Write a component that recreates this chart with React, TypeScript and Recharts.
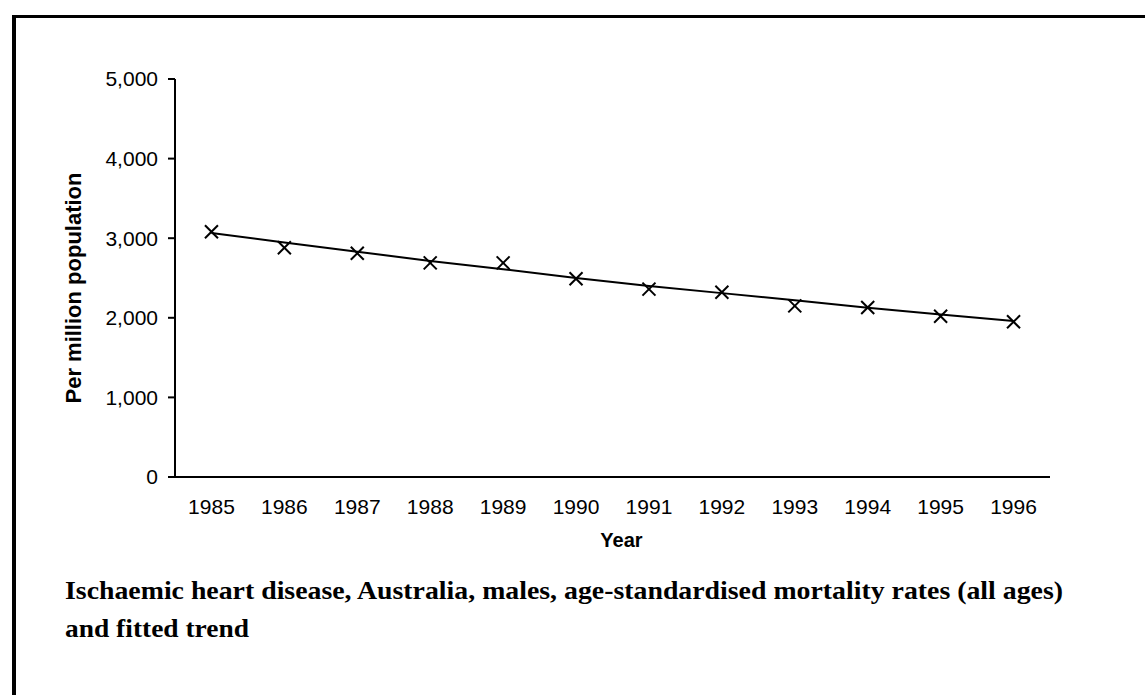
import React from "react";
import { LineChart, Line, XAxis, YAxis, Label } from "recharts";

const years = [1985, 1986, 1987, 1988, 1989, 1990, 1991, 1992, 1993, 1994, 1995, 1996];
const observed = [3080, 2880, 2810, 2690, 2690, 2490, 2360, 2320, 2150, 2130, 2020, 1950];
const trend = [3065, 2945, 2830, 2715, 2610, 2500, 2400, 2310, 2220, 2125, 2040, 1960];
const yTicks = [0, 1000, 2000, 3000, 4000, 5000];
const boundaryTicks = [1984.5, 1985.5, 1986.5, 1987.5, 1988.5, 1989.5, 1990.5, 1991.5, 1992.5, 1993.5, 1994.5, 1995.5, 1996.5];
const captionLines = [
  "Ischaemic heart disease, Australia, males, age-standardised mortality rates (all ages)",
  "and fitted trend",
];

const data = years.map((y, i) => ({ year: y, observed: observed[i], trend: trend[i] }));

const fmt = (v: number) => v.toLocaleString("en-US");

const Cross = (props: any) => {
  const { cx, cy } = props;
  if (cx == null || cy == null) return null;
  const s = 6.5;
  return (
    <g>
      <line x1={cx - s} y1={cy - s} x2={cx + s} y2={cy + s} stroke="#000" strokeWidth={2} />
      <line x1={cx - s} y1={cy + s} x2={cx + s} y2={cy - s} stroke="#000" strokeWidth={2} />
    </g>
  );
};

const sans = "'Liberation Sans', Arial, sans-serif";

export default function App() {
  return (
    <div style={{ position: "absolute", left: 0, top: 0, width: 1145, height: 695, background: "#fff", overflow: "hidden" }}>
      <div
        style={{
          position: "absolute",
          left: 12,
          top: 15,
          width: 1200,
          height: 800,
          borderLeft: "4px solid #000",
          borderTop: "3px solid #000",
        }}
      />
      <div style={{ position: "absolute", left: 0, top: 0 }}>
        <LineChart width={1145} height={695} data={data} margin={{ top: 79, right: 95, bottom: 150, left: 95 }}>
          <XAxis
            xAxisId="a"
            dataKey="year"
            type="number"
            domain={[1984.5, 1996.5]}
            ticks={boundaryTicks}
            tick={false}
            tickSize={7}
            height={8}
            axisLine={{ stroke: "#000", strokeWidth: 2 }}
            tickLine={{ stroke: "#000", strokeWidth: 2 }}
            allowDataOverflow
          />
          <XAxis
            xAxisId="b"
            dataKey="year"
            type="number"
            domain={[1984.5, 1996.5]}
            ticks={years}
            interval={0}
            tickSize={0}
            tickMargin={14}
            height={60}
            axisLine={false}
            tickLine={false}
            tick={{ fill: "#000", fontSize: 21, fontFamily: sans }}
            allowDataOverflow
          >
            <Label
              content={(p: any) => {
                const vb = p.viewBox;
                return (
                  <text
                    x={vb.x + vb.width / 2 + 9}
                    y={vb.y + 62}
                    textAnchor="middle"
                    fontFamily={sans}
                    fontWeight="bold"
                    fontSize={20}
                    fill="#000"
                  >
                    Year
                  </text>
                );
              }}
            />
          </XAxis>
          <YAxis
            domain={[0, 5000]}
            ticks={yTicks}
            width={80}
            tickSize={7}
            tickMargin={10}
            tickFormatter={fmt}
            axisLine={{ stroke: "#000", strokeWidth: 2 }}
            tickLine={{ stroke: "#000", strokeWidth: 2 }}
            tick={{ fill: "#000", fontSize: 21, fontFamily: sans }}
          >
            <Label
              content={(p: any) => {
                const vb = p.viewBox;
                const cx = vb.x - 22;
                const cy = vb.y + vb.height / 2 + 10;
                return (
                  <text
                    x={cx}
                    y={cy}
                    transform={`rotate(-90 ${cx} ${cy})`}
                    textAnchor="middle"
                    dominantBaseline="central"
                    fontFamily={sans}
                    fontWeight="bold"
                    fontSize={22}
                    fill="#000"
                  >
                    Per million population
                  </text>
                );
              }}
            />
          </YAxis>
          <Line
            xAxisId="a"
            dataKey="trend"
            stroke="#000"
            strokeWidth={2}
            dot={false}
            activeDot={false}
            isAnimationActive={false}
          />
          <Line
            xAxisId="a"
            dataKey="observed"
            stroke="none"
            dot={<Cross />}
            activeDot={false}
            isAnimationActive={false}
          />
        </LineChart>
      </div>
      <svg width={1145} height={695} style={{ position: "absolute", left: 0, top: 0, pointerEvents: "none" }}>
        <text
          x={65}
          y={599}
          fontFamily="'Liberation Serif', 'Times New Roman', serif"
          fontWeight="bold"
          fontSize={26}
          textLength={998}
          lengthAdjust="spacingAndGlyphs"
          fill="#000"
        >
          {captionLines[0]}
        </text>
        <text
          x={65}
          y={637}
          fontFamily="'Liberation Serif', 'Times New Roman', serif"
          fontWeight="bold"
          fontSize={26}
          textLength={184}
          lengthAdjust="spacingAndGlyphs"
          fill="#000"
        >
          {captionLines[1]}
        </text>
      </svg>
    </div>
  );
}
